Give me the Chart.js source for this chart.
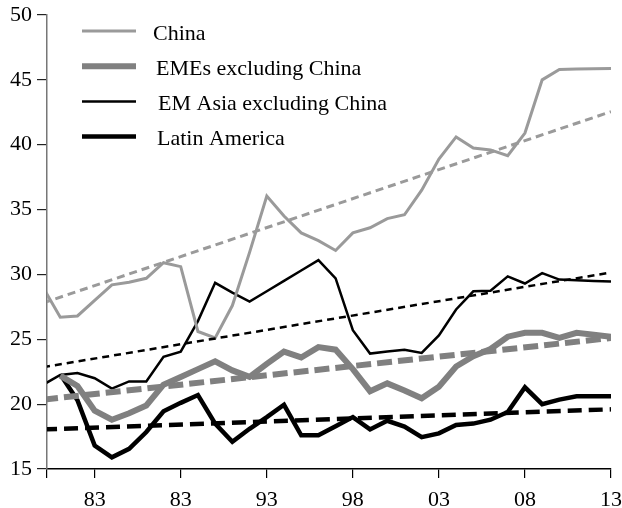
<!DOCTYPE html>
<html>
<head>
<meta charset="utf-8">
<script src="https://cdn.jsdelivr.net/npm/chart.js@4/dist/chart.umd.min.js"></script>
<style>
  html, body { margin: 0; padding: 0; background: #fff; }
  #wrap { width: 622px; height: 508px; }
</style>
</head>
<body>
<div id="wrap"><canvas id="c" width="622" height="508"></canvas></div>
<script>
// ---- data ----
const years = [1980,1981,1982,1983,1984,1985,1986,1987,1988,1989,1990,1991,1992,1993,1994,1995,1996,1997,1998,1999,2000,2001,2002,2003,2004,2005,2006,2007,2008,2009,2010,2011,2012,2013];
const china = [29.0,26.7,26.8,28.0,29.2,29.4,29.7,30.9,30.6,25.6,25.1,27.6,31.7,36.05,34.5,33.2,32.6,31.85,33.2,33.6,34.3,34.6,36.5,38.9,40.6,39.75,39.6,39.15,40.9,45.0,45.8,45.83,45.85,45.87];
const emesExChina = [null,22.2,21.4,19.5,18.8,19.3,19.9,21.5,22.1,22.7,23.3,22.6,22.1,23.1,24.05,23.6,24.4,24.2,22.7,21.0,21.6,21.05,20.45,21.35,22.9,23.7,24.25,25.2,25.5,25.5,25.1,25.5,25.35,25.2];
const emAsiaExChina = [21.5,22.25,22.4,22.0,21.2,21.75,21.75,23.65,24.05,26.4,29.35,28.6,27.9,28.7,29.5,30.3,31.1,29.7,25.7,23.9,24.05,24.2,23.95,25.3,27.3,28.7,28.75,29.85,29.3,30.1,29.6,29.55,29.5,29.45];
const latinAmerica = [null,22.3,20.3,16.8,15.9,16.55,17.85,19.45,20.1,20.7,18.5,17.1,18.1,19.0,19.95,17.6,17.6,18.3,19.0,18.05,18.72,18.27,17.45,17.75,18.4,18.5,18.8,19.4,21.3,20.0,20.35,20.6,20.6,20.6];
// linear trend lines (end points)
const trendYears = [1980, 2013];
const chinaTrend = [27.8, 42.55];
const emesTrend = [20.35, 25.1];
const emAsiaTrend = [22.85, 30.15];
const latamTrend = [18.05, 19.6];
// axis ticks
const xTickValues = [1980.23, 1983, 1988, 1993, 1998, 2003, 2008, 2013];
const xTickLabels = ['', '83', '83', '93', '98', '03', '08', '13'];
const seriesNames = ['China', 'EMEs excluding China', 'EM Asia excluding China', 'Latin America'];

const pts = (xs, ys) => xs.map((x, i) => ({ x: x, y: ys[i] }));
const FONT = "'Liberation Serif', 'Times New Roman', serif";

const common = { pointRadius: 0, pointHoverRadius: 0, fill: false, tension: 0, spanGaps: false, borderCapStyle: 'butt', borderJoinStyle: 'miter' };

const datasets = [
  Object.assign({ data: pts(trendYears, chinaTrend), borderColor: '#9a9a9a', borderWidth: 3, borderDash: [8, 5] }, common),
  Object.assign({ data: pts(trendYears, emAsiaTrend), borderColor: '#000', borderWidth: 2.5, borderDash: [7, 5] }, common),
  Object.assign({ data: pts(trendYears, emesTrend), borderColor: '#808080', borderWidth: 6, borderDash: [15, 6] }, common),
  Object.assign({ data: pts(trendYears, latamTrend), borderColor: '#000', borderWidth: 4.5, borderDash: [14, 7] }, common),
  Object.assign({ label: seriesNames[0], legend: true, data: pts(years, china), borderColor: '#9a9a9a', borderWidth: 3 }, common),
  Object.assign({ label: seriesNames[1], legend: true, data: pts(years, emesExChina), borderColor: '#808080', borderWidth: 6 }, common),
  Object.assign({ label: seriesNames[2], legend: true, data: pts(years, emAsiaExChina), borderColor: '#000', borderWidth: 2.5 }, common),
  Object.assign({ label: seriesNames[3], legend: true, data: pts(years, latinAmerica), borderColor: '#000', borderWidth: 4.5 }, common)
];

const legendPlugin = {
  id: 'insideLegend',
  afterDraw(chart) {
    const ctx = chart.ctx;
    const items = chart.data.datasets.filter(d => d.legend);
    const textX = [153, 156, 158, 157];
    ctx.save();
    items.forEach((d, i) => {
      const y = 31 + i * 35.2;
      ctx.beginPath();
      ctx.strokeStyle = d.borderColor;
      ctx.lineWidth = d.borderWidth;
      ctx.lineCap = 'butt';
      ctx.moveTo(82, y);
      ctx.lineTo(136, y);
      ctx.stroke();
      ctx.fillStyle = '#000';
      ctx.font = "22px " + FONT;
      ctx.textBaseline = 'alphabetic';
      ctx.textAlign = 'left';
      ctx.fillText(d.label, textX[i], y + 8.5);
    });
    ctx.restore();
  }
};

new Chart(document.getElementById('c'), {
  type: 'line',
  data: { datasets: datasets },
  options: {
    responsive: false,
    animation: false,
    devicePixelRatio: 1,
    layout: { padding: { top: 15, right: 11, left: 0, bottom: 0 } },
    plugins: { legend: { display: false }, tooltip: { enabled: false } },
    scales: {
      x: {
        type: 'linear',
        min: xTickValues[0],
        max: 2013,
        afterBuildTicks: (scale) => { scale.ticks = xTickValues.map(v => ({ value: v })); },
        afterFit: (scale) => { scale.height = 39; scale.paddingLeft = 0; scale.paddingRight = 0; },
        ticks: {
          autoSkip: false, maxRotation: 0, minRotation: 0,
          color: '#000', padding: 9,
          font: { family: FONT, size: 22 },
          callback: (v, i) => xTickLabels[i]
        },
        grid: { drawOnChartArea: false, drawTicks: true, tickLength: 9, color: '#000', lineWidth: 1.2 },
        border: { display: true, color: '#000', width: 1.5 }
      },
      y: {
        min: 15, max: 50,
        afterFit: (scale) => { scale.width = 47; scale.paddingTop = 0; scale.paddingBottom = 0; },
        ticks: { stepSize: 5, color: '#000', padding: 5, font: { family: FONT, size: 22 } },
        grid: { drawOnChartArea: false, drawTicks: true, tickLength: 10, color: '#222', lineWidth: 1.2 },
        border: { display: true, color: '#777', width: 1.5 }
      }
    }
  },
  plugins: [legendPlugin]
});
</script>
</body>
</html>
